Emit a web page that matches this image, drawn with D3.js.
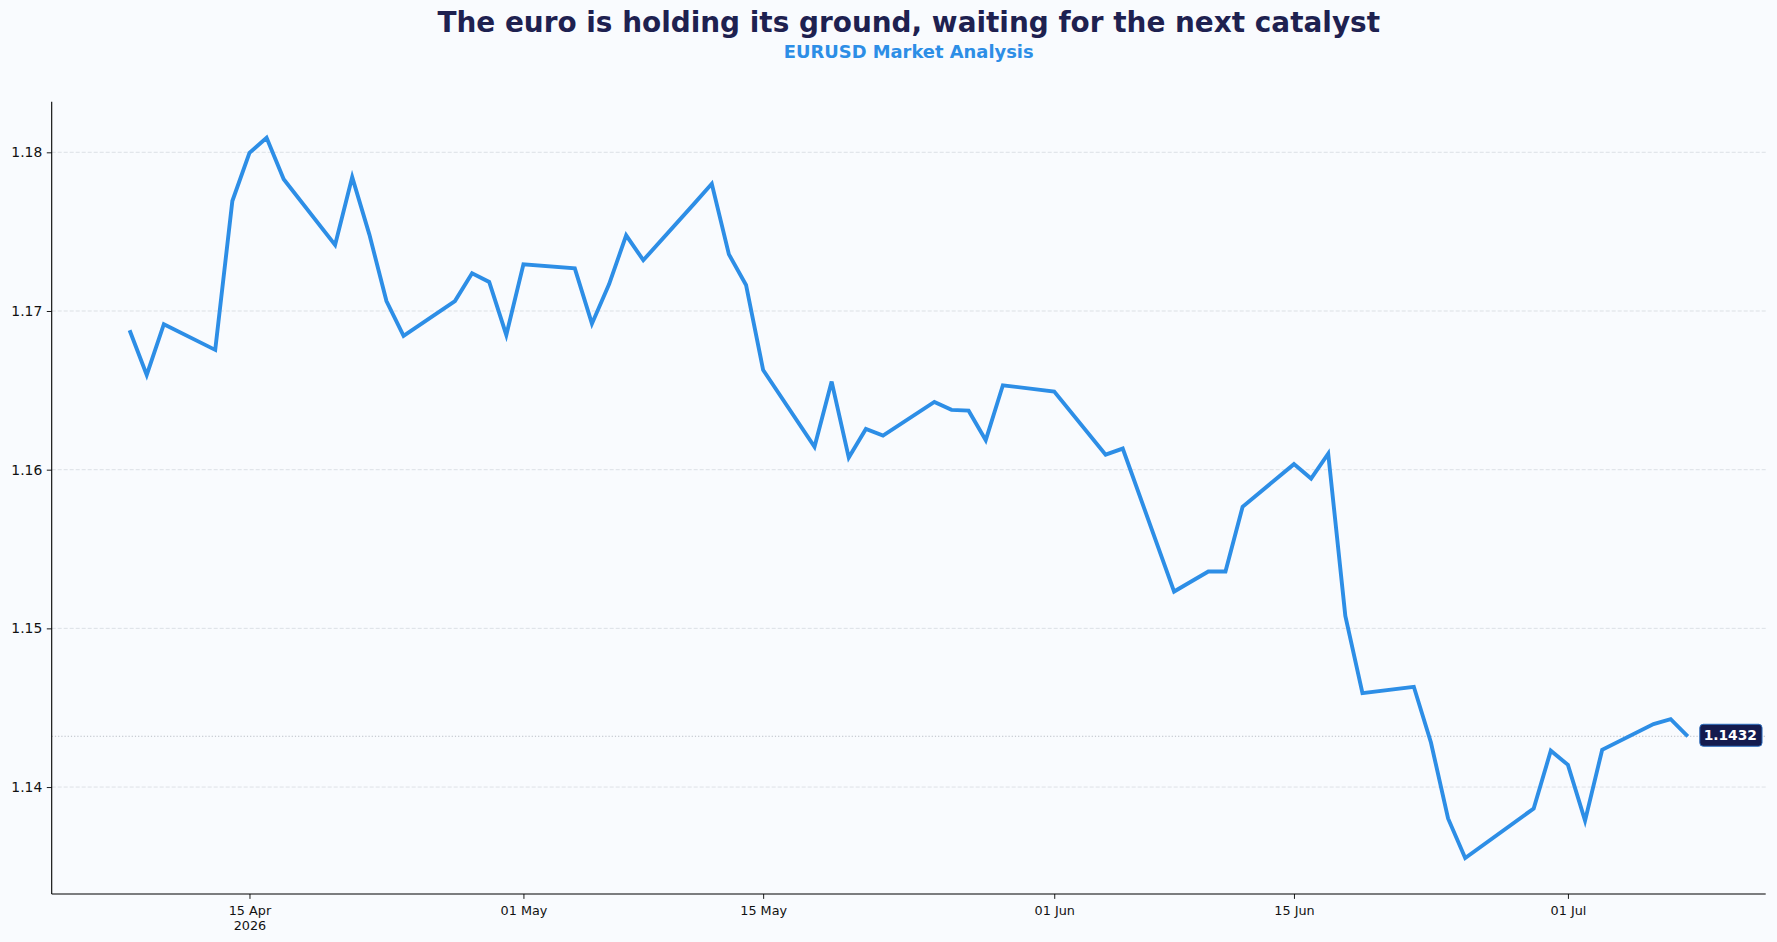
<!DOCTYPE html>
<html>
<head>
<meta charset="utf-8">
<script src="https://cdn.jsdelivr.net/npm/d3@7"></script>
<style>
  html, body { margin: 0; padding: 0; background: #f9fbfe; }
  svg { display: block; }
  text { font-family: "DejaVu Sans", sans-serif; }
</style>
</head>
<body>
<svg id="chart" width="1777" height="942"></svg>
<script>
// ---- Data ----
const dates = [
  "2026-04-08","2026-04-09","2026-04-10","2026-04-13","2026-04-14","2026-04-15","2026-04-16","2026-04-17",
  "2026-04-20","2026-04-21","2026-04-22","2026-04-23","2026-04-24","2026-04-27","2026-04-28","2026-04-29",
  "2026-04-30","2026-05-01","2026-05-04","2026-05-05","2026-05-06","2026-05-07","2026-05-08","2026-05-11",
  "2026-05-12","2026-05-13","2026-05-14","2026-05-15","2026-05-18","2026-05-19","2026-05-20","2026-05-21",
  "2026-05-22","2026-05-25","2026-05-26","2026-05-27","2026-05-28","2026-05-29","2026-06-01","2026-06-04",
  "2026-06-05","2026-06-08","2026-06-09","2026-06-10","2026-06-11","2026-06-12","2026-06-15","2026-06-16",
  "2026-06-17","2026-06-18","2026-06-19","2026-06-22","2026-06-23","2026-06-24","2026-06-25","2026-06-29",
  "2026-06-30","2026-07-01","2026-07-02","2026-07-03","2026-07-06","2026-07-07","2026-07-08"
];
const prices = [
  1.16879,1.16597,1.16917,1.16755,1.17693,1.17997,1.18092,1.17830,
  1.17416,1.17844,1.17483,1.17063,1.16843,1.17063,1.17238,1.17183,
  1.16849,1.17294,1.17269,1.16920,1.17168,1.17477,1.17320,1.17680,
  1.17802,1.17357,1.17164,1.16628,1.16144,1.16555,1.16076,1.16257,
  1.16215,1.16427,1.16377,1.16372,1.16186,1.16532,1.16492,1.16095,
  1.16133,1.15232,1.15295,1.15358,1.15358,1.15766,1.16035,1.15944,
  1.16101,1.15079,1.14592,1.14632,1.14281,1.13802,1.13553,1.13865,
  1.14229,1.14140,1.13788,1.14235,1.14397,1.14428,1.14320
];
const yTicks = [1.14, 1.15, 1.16, 1.17, 1.18];
const xTickDates = ["2026-04-15","2026-05-01","2026-05-15","2026-06-01","2026-06-15","2026-07-01"];
const xTickLabels = [["15 Apr","2026"],["01 May"],["15 May"],["01 Jun"],["15 Jun"],["01 Jul"]];
const titleText = "The euro is holding its ground, waiting for the next catalyst";
const subtitleText = "EURUSD Market Analysis";
const lastLabel = "1.1432";

// ---- Layout ----
const W = 1777, H = 942;
const m = { left: 51.7, right: W - 1765.7, top: 101.7, bottom: H - 894 };
const parse = d3.timeParse("%Y-%m-%d");
const data = dates.map((d, i) => ({ date: parse(d), value: prices[i] }));

const svg = d3.select("#chart");
svg.append("rect").attr("width", W).attr("height", H).attr("fill", "#f9fbfe");

// matplotlib-like 5% margins
const xExt = d3.extent(data, d => d.date);
const xSpan = xExt[1] - xExt[0];
const x = d3.scaleTime()
  .domain([new Date(+xExt[0] - 0.05 * xSpan), new Date(+xExt[1] + 0.05 * xSpan)])
  .range([m.left, W - m.right]);
const yExt = d3.extent(data, d => d.value);
const ySpan = yExt[1] - yExt[0];
const y = d3.scaleLinear()
  .domain([yExt[0] - 0.05 * ySpan, yExt[1] + 0.05 * ySpan])
  .range([H - m.bottom, m.top]);

// grid
const grid = svg.append("g");
grid.selectAll("line").data(yTicks).join("line")
  .attr("x1", m.left).attr("x2", W - m.right)
  .attr("y1", d => y(d)).attr("y2", d => y(d))
  .attr("stroke", "#d5d9df").attr("stroke-width", 0.8)
  .attr("stroke-dasharray", "4,2");

// last value dotted line
const last = data[data.length - 1];
svg.append("line")
  .attr("x1", m.left).attr("x2", W - m.right)
  .attr("y1", y(last.value)).attr("y2", y(last.value))
  .attr("stroke", "#b9bdc5").attr("stroke-width", 1)
  .attr("stroke-dasharray", "1.2,2");

// line
svg.append("path").datum(data)
  .attr("fill", "none")
  .attr("stroke", "#2d8ee6")
  .attr("stroke-width", 3.9)
  .attr("stroke-linejoin", "miter")
  .attr("d", d3.line().x(d => x(d.date)).y(d => y(d.value)));

// y axis
const yAxis = d3.axisLeft(y).tickValues(yTicks).tickFormat(d3.format(".2f")).tickSizeOuter(0).tickSize(4.9).tickPadding(4.5);
const gy = svg.append("g").attr("transform", `translate(${m.left},0)`).call(yAxis);
gy.select(".domain").attr("stroke", "#000").attr("stroke-width", 1.1)
  .attr("d", `M0,${m.top}V${H - m.bottom}`);
gy.selectAll(".tick line").attr("stroke", "#000").attr("stroke-width", 0.9);
gy.selectAll(".tick text").attr("font-size", 13.9).attr("fill", "#111")
  .attr("font-family", "DejaVu Sans");

// x axis
const xTickVals = xTickDates.map(parse);
const xAxis = d3.axisBottom(x).tickValues(xTickVals).tickFormat("").tickSizeOuter(0).tickSize(4.9);
const gx = svg.append("g").attr("transform", `translate(0,${H - m.bottom})`).call(xAxis);
gx.select(".domain").attr("stroke", "#000").attr("stroke-width", 1.1)
  .attr("d", `M${m.left},0H${W - m.right}`);
gx.selectAll(".tick line").attr("stroke", "#000").attr("stroke-width", 0.9);
gx.selectAll(".tick").each(function(d, i) {
  const t = d3.select(this).append("text")
    .attr("fill", "#111").attr("font-size", 12.8).attr("text-anchor", "middle")
    .attr("font-family", "DejaVu Sans");
  xTickLabels[i].forEach((s, j) => {
    t.append("tspan").attr("x", 0).attr("y", 20.5 + j * 15.5).text(s);
  });
});

// last value label
const lx = x(last.date) + 12, ly = y(last.value) - 1;
const lg = svg.append("g");
const lt = lg.append("text")
  .attr("x", lx + 30.5).attr("y", ly + 5)
  .attr("text-anchor", "middle")
  .attr("font-size", 13.8).attr("font-weight", "bold").attr("fill", "#ffffff")
  .text(lastLabel);
const bb = lt.node().getBBox();
lg.insert("rect", "text")
  .attr("x", lx).attr("y", ly - 11)
  .attr("width", Math.max(61, bb.width + 9)).attr("height", 22)
  .attr("rx", 3.5)
  .attr("fill", "#141b4e").attr("stroke", "#2d6fc0").attr("stroke-width", 1);

// titles
const cx = (m.left + W - m.right) / 2;
svg.append("text").attr("x", cx).attr("y", 31.5)
  .attr("text-anchor", "middle").attr("font-size", 27.9).attr("font-weight", "bold")
  .attr("fill", "#1e2150").text(titleText);
svg.append("text").attr("x", cx).attr("y", 57.5)
  .attr("text-anchor", "middle").attr("font-size", 17.9).attr("font-weight", "bold")
  .attr("fill", "#2d8ee6").text(subtitleText);
</script>
</body>
</html>
